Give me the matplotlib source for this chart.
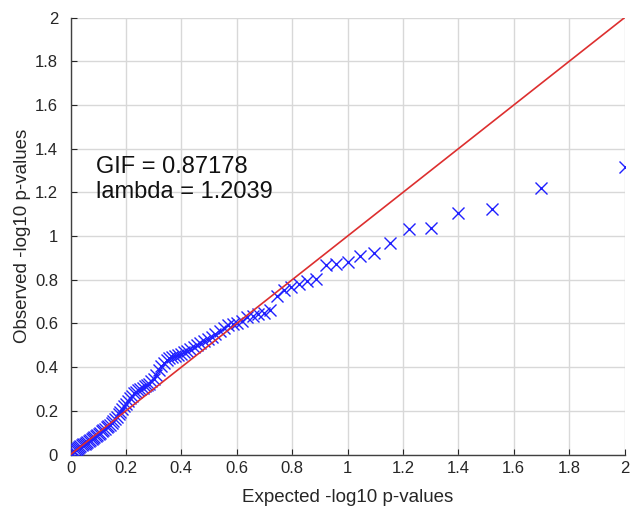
import matplotlib
matplotlib.use("Agg")
import matplotlib.pyplot as plt

expected = [2.000, 1.699, 1.523, 1.398, 1.301, 1.222, 1.155, 1.097, 1.046, 1.000,
            0.959, 0.921, 0.886, 0.854, 0.824, 0.796, 0.770, 0.745, 0.721, 0.699,
            0.678, 0.658, 0.638, 0.620, 0.602, 0.585, 0.569, 0.553, 0.538, 0.523,
            0.509, 0.495, 0.481, 0.469, 0.456, 0.444, 0.432, 0.420, 0.409, 0.398,
            0.387, 0.377, 0.367, 0.357, 0.347, 0.337, 0.328, 0.319, 0.310, 0.301,
            0.292, 0.284, 0.276, 0.268, 0.260, 0.252, 0.244, 0.237, 0.229, 0.222,
            0.215, 0.208, 0.201, 0.194, 0.187, 0.180, 0.174, 0.167, 0.161, 0.155,
            0.149, 0.143, 0.137, 0.131, 0.125, 0.119, 0.114, 0.108, 0.102, 0.097,
            0.092, 0.086, 0.081, 0.076, 0.071, 0.066, 0.060, 0.056, 0.051, 0.046,
            0.041, 0.036, 0.032, 0.027, 0.022, 0.018, 0.013, 0.009, 0.004, 0.000]

observed = [1.317, 1.221, 1.122, 1.105, 1.035, 1.031, 0.969, 0.924, 0.910, 0.882,
            0.873, 0.866, 0.805, 0.793, 0.779, 0.768, 0.753, 0.727, 0.661, 0.650,
            0.643, 0.636, 0.628, 0.612, 0.600, 0.596, 0.592, 0.580, 0.565, 0.552,
            0.540, 0.528, 0.520, 0.510, 0.500, 0.492, 0.482, 0.475, 0.468, 0.462,
            0.456, 0.450, 0.445, 0.440, 0.432, 0.420, 0.405, 0.385, 0.365, 0.348,
            0.335, 0.325, 0.318, 0.312, 0.306, 0.300, 0.294, 0.288, 0.280, 0.270,
            0.258, 0.245, 0.232, 0.220, 0.208, 0.196, 0.184, 0.172, 0.162, 0.152,
            0.144, 0.137, 0.130, 0.124, 0.118, 0.112, 0.106, 0.100, 0.095, 0.090,
            0.085, 0.080, 0.075, 0.070, 0.066, 0.062, 0.058, 0.054, 0.050, 0.046,
            0.042, 0.038, 0.034, 0.030, 0.026, 0.022, 0.018, 0.014, 0.008, 0.004]

ref_line = [0, 2]
ticks = [0, 0.2, 0.4, 0.6, 0.8, 1, 1.2, 1.4, 1.6, 1.8, 2]
tick_labels = ["0", "0.2", "0.4", "0.6", "0.8", "1", "1.2", "1.4", "1.6", "1.8", "2"]
annotation = "GIF = 0.87178\nlambda = 1.2039"

plt.rcParams['font.family'] = ['Liberation Sans', 'DejaVu Sans']

fig = plt.figure(figsize=(6.33, 5.13), dpi=100)
ax = fig.add_axes([0.1114, 0.114, 0.8752, 0.8515])

ax.plot(expected, observed, linestyle='none', marker='x', color='#2020ff',
        markersize=8, markeredgewidth=1.0, zorder=3)
ax.plot(ref_line, ref_line, color='#dd2f2f', linewidth=1.2, zorder=4)

ax.set_xlim(0, 2)
ax.set_ylim(0, 2)
ax.set_xticks(ticks)
ax.set_xticklabels(tick_labels)
ax.set_yticks(ticks)
ax.set_yticklabels(tick_labels)
ax.grid(True, color='#d8d8d8', linewidth=1.0, zorder=0)
ax.set_axisbelow(True)
for side in ['top', 'right']:
    ax.spines[side].set_visible(False)
for side in ['left', 'bottom']:
    ax.spines[side].set_color('#404040')
    ax.spines[side].set_linewidth(1.0)
ax.tick_params(direction='in', length=4, width=0.8, colors='#262626',
               labelsize=12)
ax.tick_params(axis='x', pad=5)
ax.tick_params(axis='y', pad=9)

ax.set_xlabel('Expected -log10 p-values', fontsize=13.5, color='#262626', labelpad=9)
ax.set_ylabel('Observed -log10 p-values', fontsize=13.5, color='#262626', labelpad=3)

ax.text(0.092, 1.258, annotation, fontsize=17, color='#111111',
        va='center', ha='left', linespacing=1.15, zorder=5)

fig.savefig('out.png', dpi=100)
